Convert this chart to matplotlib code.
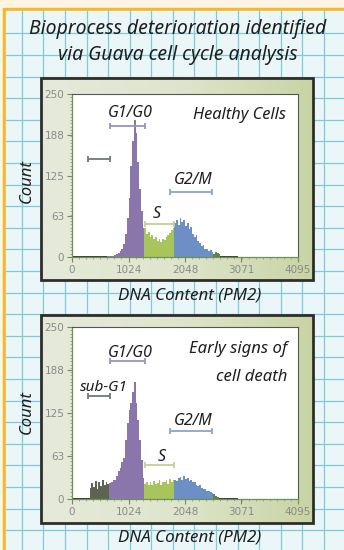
import numpy as np
import matplotlib
matplotlib.use("Agg")
import matplotlib.pyplot as plt
from matplotlib.patches import Rectangle
from matplotlib.ticker import FixedLocator, MultipleLocator
from matplotlib.colors import LinearSegmentedColormap

# ---------------- data ----------------
BIN = 32  # channel width of one histogram bin
x_ticks = [0, 1024, 2048, 3071, 4095]
x_ticklabels = ["0", "1024", "2048", "3071", "4095"]
y_ticks = [0, 62.5, 125, 187.5, 250]
y_ticklabels = ["0", "63", "125", "188", "250"]

# healthy cells: (first bin index, counts)
healthy_base = (0, [1, 1, 1, 1, 1, 1, 1, 1, 1, 1, 1, 1, 1, 1, 1, 1, 1, 1, 1, 1])
healthy_g1 = (20, [1, 1, 2, 2, 3, 4, 6, 9, 12, 20, 35, 60, 90, 140, 178, 210, 190, 145, 105, 70, 45])
healthy_s = (41, [44, 36, 39, 31, 33, 27, 30, 24, 27, 23, 28, 26, 31, 34, 37, 41, 45])
healthy_g2 = (58, [52, 57, 49, 60, 53, 57, 48, 52, 43, 46, 35, 31, 33, 24, 22, 17, 19, 13, 12, 9, 10, 7])
healthy_tail = (80, [5, 8, 6, 4])
healthy_end = (84, [1, 1, 1, 1, 1, 1, 1, 1, 1, 1])

# early signs of cell death
dying_base = (0, [1, 1, 1, 1, 1, 1, 1, 1, 1, 1])
dying_subg1 = (10, [16, 23, 18, 26, 14, 24, 19, 27, 21, 25, 22])
dying_g1 = (21, [23, 25, 27, 28, 33, 40, 45, 54, 60, 86, 110, 129, 140, 155, 170, 140, 115, 86, 57, 30])
dying_s = (41, [22, 25, 20, 24, 21, 26, 22, 23, 28, 21, 25, 24, 27, 22, 29, 25, 27])
dying_g2 = (58, [28, 26, 30, 32, 27, 33, 29, 31, 26, 28, 24, 25, 21, 19, 20, 16, 14, 15, 12, 11, 10, 9])
dying_tail = (80, [7, 5, 3])
dying_end = (83, [1, 1, 1, 1, 1, 1, 1, 1, 1, 1, 1])

# gate markers: (label, start, end, y)
healthy_gates = [("", 295, 690, 150), ("G1/G0", 690, 1322, 201),
                 ("S", 1322, 1850, 50), ("G2/M", 1775, 2545, 100)]
dying_gates = [("sub-G1", 295, 690, 149), ("G1/G0", 690, 1322, 200),
               ("S", 1322, 1850, 50), ("G2/M", 1775, 2545, 99)]

# ---------------- style ----------------
C_BASE = "#3c3c3c"
C_SUB = "#5f6452"
C_G1 = "#8b76ab"
C_S = "#a8c55c"
C_G2 = "#6c8fc6"
C_TAIL = "#5b8a3c"
GATE_COL = {"sub-G1": "#6f7a78", "": "#6f7a78", "G1/G0": "#9c92c0",
            "S": "#c3d093", "G2/M": "#8fa4cc"}
HAND = ["Noto Sans", "DejaVu Sans"]
TXT = "#1e1e1e"
WEIGHT = "light"

W, H = 344, 550
fig = plt.figure(figsize=(W / 100, H / 100), dpi=100)

# background (pixel coordinates)
bg = fig.add_axes([0, 0, 1, 1])
bg.set_xlim(0, W)
bg.set_ylim(H, 0)
bg.axis("off")
bg.add_patch(Rectangle((0, 0), W, H, color="#fdf4e4", zorder=0))
bg.add_patch(Rectangle((3, 8), W, H, color="#f6b72d", zorder=1))
bg.add_patch(Rectangle((6, 11), W, H, color="#ebf6f9", zorder=2))
step = 21.6
for gx in np.arange(21.7, W, step):
    bg.plot([gx, gx], [11, H], color="#80c9d7", lw=0.9, zorder=3)
for gy in np.arange(33.3, H, step):
    bg.plot([6, W], [gy, gy], color="#80c9d7", lw=0.9, zorder=3)

# panel frames with gradient
grad = np.linspace(0, 1, 256)[None, :]
pcm = LinearSegmentedColormap.from_list("panel", ["#e6eadb", "#dfe5cc", "#c9d4a4"])
for (px, py, pw, ph) in [(41, 78, 272, 202), (41, 315, 272, 208)]:
    bg.imshow(grad, cmap=pcm, extent=(px, px + pw, py + ph, py),
              aspect="auto", zorder=4)
    bg.add_patch(Rectangle((px, py), pw, ph, fill=False, ec="#2e2e2e", lw=2.0, zorder=5))

bg.text(178, 29, "Bioprocess deterioration identified", ha="center", va="center",
        fontsize=14, style="italic", weight=WEIGHT, family=HAND, color=TXT, zorder=6)
bg.text(178, 55, "via Guava cell cycle analysis", ha="center", va="center",
        fontsize=14, style="italic", weight=WEIGHT, family=HAND, color=TXT, zorder=6)
for (cy, ly) in [(181, 296), (412, 538)]:
    bg.text(27, cy, "Count", rotation=90, ha="center", va="center", fontsize=12,
            style="italic", weight=WEIGHT, family=HAND, color=TXT, zorder=6)
    bg.text(190, ly, "DNA Content (PM2)", ha="center", va="center", fontsize=12.2,
            style="italic", weight=WEIGHT, family=HAND, color=TXT, zorder=6)


def draw_panel(rect, segments, gates, note_fn):
    ax = fig.add_axes(rect)
    ax.set_facecolor("white")
    for (start, vals), col in segments:
        edges = BIN * np.arange(start, start + len(vals) + 1)
        ax.stairs(vals, edges, fill=True, color=col, lw=0)
    for lab, x0, x1, y in gates:
        c = GATE_COL[lab]
        ax.errorbar([(x0 + x1) / 2], [y], xerr=[(x1 - x0) / 2], fmt="none",
                    ecolor=c, elinewidth=1.3, capsize=2.5, capthick=1.3)
    ax.set_xlim(0, 4095)
    ax.set_ylim(0, 250)
    ax.xaxis.set_major_locator(FixedLocator(x_ticks))
    ax.set_xticklabels(x_ticklabels)
    ax.yaxis.set_major_locator(FixedLocator(y_ticks))
    ax.set_yticklabels(y_ticklabels)
    ax.xaxis.set_minor_locator(MultipleLocator(128))
    ax.yaxis.set_minor_locator(MultipleLocator(5))
    ax.tick_params(axis="both", which="major", length=3.5, width=0.8, color="#6f8f58",
                   labelsize=7.5, labelcolor="#8a8a8a", pad=2)
    ax.tick_params(axis="both", which="minor", length=1.5, width=0.5, color="#7a9a60")
    for s in ["left", "bottom"]:
        ax.spines[s].set_color("#6f8f58")
        ax.spines[s].set_linewidth(0.9)
    for s in ["top", "right"]:
        ax.spines[s].set_color("#555555")
        ax.spines[s].set_linewidth(0.8)
    note_fn(ax)
    return ax


def note(ax, x, y, s, size=11.5, ha="center"):
    ax.text(x, y, s, ha=ha, va="center", fontsize=size, style="italic",
            weight=WEIGHT, family=HAND, color=TXT)


def healthy_notes(ax):
    note(ax, 1050, 221, "G1/G0")
    note(ax, 1530, 66, "S")
    note(ax, 2200, 118, "G2/M")
    note(ax, 3030, 218, "Healthy Cells", size=11.8)


def dying_notes(ax):
    note(ax, 1050, 212, "G1/G0")
    note(ax, 570, 162, "sub-G1", size=11)
    note(ax, 1625, 61, "S")
    note(ax, 2200, 114, "G2/M")
    note(ax, 3900, 218, "Early signs of", size=12, ha="right")
    note(ax, 3900, 178, "cell death", size=12, ha="right")


draw_panel([72 / W, 1 - 257 / H, 226 / W, 163 / H],
           [(healthy_base, C_BASE), (healthy_g1, C_G1), (healthy_s, C_S),
            (healthy_g2, C_G2), (healthy_tail, C_TAIL), (healthy_end, C_BASE)],
           healthy_gates, healthy_notes)
draw_panel([72 / W, 1 - 499 / H, 226 / W, 172 / H],
           [(dying_base, C_BASE), (dying_subg1, C_SUB), (dying_g1, C_G1), (dying_s, C_S),
            (dying_g2, C_G2), (dying_tail, C_TAIL), (dying_end, C_BASE)],
           dying_gates, dying_notes)

fig.savefig("out.png", dpi=100)
